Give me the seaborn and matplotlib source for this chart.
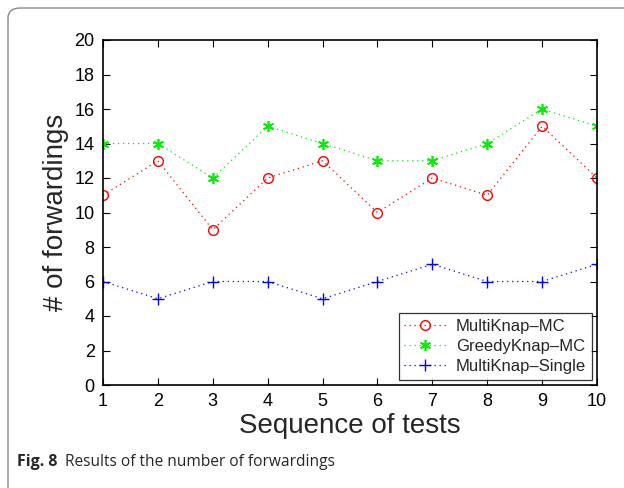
import matplotlib
matplotlib.use("Agg")
import matplotlib.pyplot as plt
from matplotlib.patches import FancyBboxPatch
import seaborn as sns
import pandas as pd

tests = [1, 2, 3, 4, 5, 6, 7, 8, 9, 10]
multiknap_mc = [11, 13, 9, 12, 13, 10, 12, 11, 15, 12]
greedyknap_mc = [14, 14, 12, 15, 14, 13, 13, 14, 16, 15]
multiknap_single = [6, 5, 6, 6, 5, 6, 7, 6, 6, 7]
series_names = ["MultiKnap–MC", "GreedyKnap–MC", "MultiKnap–Single"]
yticks = list(range(0, 21, 2))

sns.set_theme(style="white")
plt.rcParams['font.family'] = ['Liberation Sans', 'DejaVu Sans']

fig = plt.figure(figsize=(6.24, 4.88), dpi=100)
ax = fig.add_axes([103/624, 1 - 385/488, (597-103)/624, (385-40)/488])

# outer rounded frame
frame = FancyBboxPatch((8/624, -0.2), 1.2, 1.2 - 8/488,
                       boxstyle="round,pad=0,rounding_size=0.02",
                       transform=fig.transFigure, fill=False,
                       edgecolor="#888888", linewidth=1.0)
fig.patches.append(frame)

asterisk = (6, 2, 0)
styles = [
    (multiknap_mc, "#ff0000", "o", dict(markerfacecolor="none", markersize=7, markeredgewidth=1.0)),
    (greedyknap_mc, "#00ee00", asterisk, dict(markersize=8, markeredgewidth=1.2)),
    (multiknap_single, "#0000ff", "+", dict(markersize=8, markeredgewidth=1.0)),
]
for (vals, col, mk, kw), name in zip(styles, series_names):
    df = pd.DataFrame({"test": tests, "value": vals})
    sns.lineplot(data=df, x="test", y="value", ax=ax, color=col, marker=mk,
                 markeredgecolor=col, linewidth=0.9, dashes=False,
                 label=name, **kw)

for line in ax.get_lines():
    line.set_linestyle((0, (1, 3)))

ax.set_xlim(1, 10)
ax.set_ylim(0, 20)
ax.set_xticks(tests)
ax.set_yticks(yticks)
ax.tick_params(direction="in", length=5, width=0.8, top=True, right=True,
               bottom=True, left=True, labelsize=13, colors="black", pad=6)
for s in ax.spines.values():
    s.set_visible(True)
    s.set_color("black")
    s.set_linewidth(1.2)
ax.set_xlabel("Sequence of tests", fontsize=20, labelpad=2)
ax.set_ylabel("# of forwardings", fontsize=20, labelpad=4)

leg = ax.legend(loc="lower right", fontsize=12, frameon=True, fancybox=False,
                edgecolor="black", borderpad=0.35, labelspacing=0.3,
                handlelength=2.5, handletextpad=0.6, borderaxespad=0.3)
leg.get_frame().set_linewidth(0.9)
for h in leg.get_lines():
    h.set_linestyle((0, (1, 3)))

fig.text(17/624, 1 - 462/488, "Fig. 8", fontsize=11.5, fontweight="bold",
         family=["Open Sans", "DejaVu Sans"], va="center", ha="left")
fig.text(65/624, 1 - 462/488, "Results of the number of forwardings", fontsize=11.2,
         family=["Open Sans", "DejaVu Sans"], va="center", ha="left")

fig.savefig("out.png", dpi=100)
